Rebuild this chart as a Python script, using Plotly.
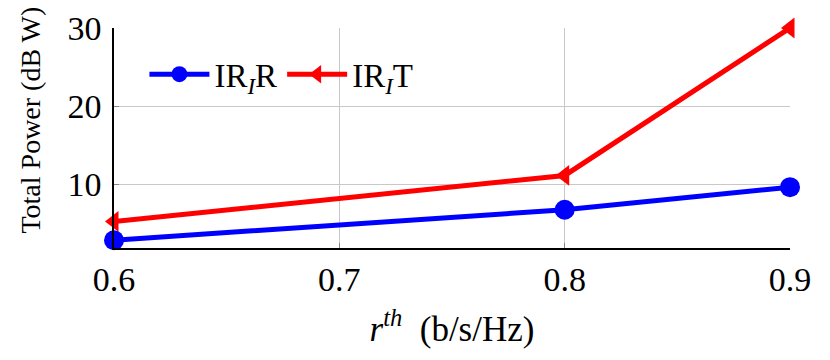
import plotly.graph_objects as go

x_vals = [0.6, 0.8, 0.9]
irir = [2.8, 6.7, 9.6]
irit = [5.2, 11.1, 30.0]
x_ticks = [0.6, 0.7, 0.8, 0.9]
y_ticks = [10, 20, 30]

FONT = "Liberation Serif"

fig = go.Figure()
fig.add_trace(go.Scatter(
    x=x_vals, y=irir, mode="lines+markers",
    name="IR<sub><i>I</i></sub>R",
    line=dict(color="#0000ff", width=5),
    marker=dict(symbol="circle", size=20, color="#0000ff"),
    cliponaxis=False,
))
fig.add_trace(go.Scatter(
    x=x_vals, y=irit, mode="lines+markers",
    name="IR<sub><i>I</i></sub>T",
    line=dict(color="#ff0000", width=5),
    marker=dict(symbol="triangle-left", size=18, color="#ff0000"),
    cliponaxis=False,
))

fig.add_annotation(
    text="Total Power (dB W)", textangle=-90,
    xref="paper", yref="paper", x=-0.124, y=0.58,
    xanchor="center", yanchor="middle", showarrow=False,
    font=dict(family=FONT, size=28),
)

fig.update_layout(
    width=830, height=360,
    margin=dict(l=106, r=48, t=20, b=120, autoexpand=False),
    paper_bgcolor="white", plot_bgcolor="white",
    font=dict(family=FONT, size=26, color="black"),
    showlegend=True,
    legend=dict(x=0.045, y=0.79, xanchor="left", yanchor="middle",
                orientation="h", bgcolor="rgba(0,0,0,0)",
                font=dict(family=FONT, size=33), itemwidth=60),
    xaxis=dict(
        range=[0.6, 0.9], tickvals=x_ticks, ticktext=["0.6", "0.7", "0.8", "0.9"],
        showgrid=True, gridcolor="#c8c8c8", gridwidth=1,
        showline=True, linecolor="black", linewidth=1.5,
        ticks="inside", ticklen=5, tickcolor="#888",
        zeroline=False, automargin=False,
        title=dict(text="<i>r</i><sup><i>th</i></sup>  (b/s/Hz)",
                   font=dict(family=FONT, size=35), standoff=20),
        tickfont=dict(family=FONT, size=34),
    ),
    yaxis=dict(
        range=[1.8, 30], tickvals=y_ticks,
        showgrid=True, gridcolor="#c8c8c8", gridwidth=1,
        showline=True, linecolor="black", linewidth=1.5,
        ticks="inside", ticklen=5, tickcolor="#888",
        zeroline=False, automargin=False,
        ticklabelstandoff=4,
        tickfont=dict(family=FONT, size=34),
    ),
)

fig.write_html("out.html")
